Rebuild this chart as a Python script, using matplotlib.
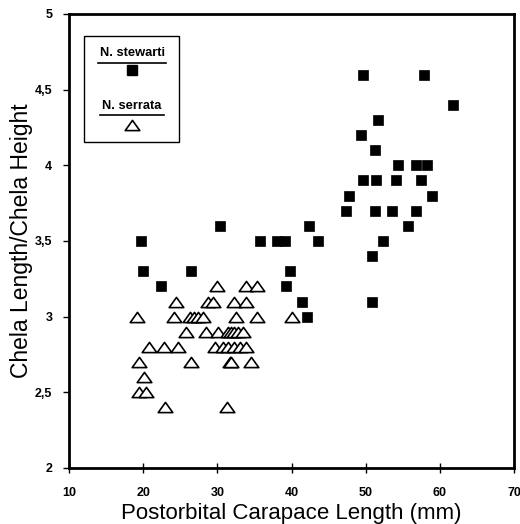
import matplotlib
matplotlib.use('Agg')
import matplotlib.pyplot as plt
from matplotlib.path import Path
from matplotlib.patches import Rectangle

# N. stewarti (filled squares)
stewarti_x = [19.7, 20.0, 22.4, 26.5, 30.4, 35.8, 38.0, 39.1, 39.8, 39.3,
              41.4, 42.1, 42.4, 43.6, 47.4, 47.8, 49.4, 49.7, 49.7, 50.9,
              50.8, 51.3, 51.3, 51.4, 51.7, 52.4, 53.6, 54.1, 54.4, 55.7,
              56.8, 56.8, 57.5, 57.8, 58.3, 59.0, 61.8]
stewarti_y = [3.5, 3.3, 3.2, 3.3, 3.6, 3.5, 3.5, 3.5, 3.3, 3.2,
              3.1, 3.0, 3.6, 3.5, 3.7, 3.8, 4.2, 4.6, 3.9, 3.4,
              3.1, 4.1, 3.7, 3.9, 4.3, 3.5, 3.7, 3.9, 4.0, 3.6,
              4.0, 3.7, 3.9, 4.6, 4.0, 3.8, 4.4]

# N. serrata (open triangles)
serrata_x = [29.9, 33.9, 35.3,
             24.4, 28.8, 29.4, 32.3, 33.8,
             19.2, 24.2, 26.3, 26.9, 27.4, 28.1, 32.5, 35.3, 40.1,
             25.8, 28.5, 30.1, 31.4, 31.8, 32.3, 32.8, 33.4,
             20.8, 22.8, 24.7, 29.7, 30.7, 31.5, 32.3, 33.0, 33.9,
             19.5, 26.4, 31.7, 31.9, 34.5,
             20.1,
             19.5, 20.4,
             22.9, 31.3]
serrata_y = [3.2, 3.2, 3.2,
             3.1, 3.1, 3.1, 3.1, 3.1,
             3.0, 3.0, 3.0, 3.0, 3.0, 3.0, 3.0, 3.0, 3.0,
             2.9, 2.9, 2.9, 2.9, 2.9, 2.9, 2.9, 2.9,
             2.8, 2.8, 2.8, 2.8, 2.8, 2.8, 2.8, 2.8, 2.8,
             2.7, 2.7, 2.7, 2.7, 2.7,
             2.6,
             2.5, 2.5,
             2.4, 2.4]

x_ticks = [10, 20, 30, 40, 50, 60, 70]
y_ticks = [2, 2.5, 3, 3.5, 4, 4.5, 5]
y_ticklabels = ['2', '2,5', '3', '3,5', '4', '4,5', '5']

plt.rcParams['font.family'] = ['Liberation Sans', 'DejaVu Sans']

# wide, flat triangle
tri = Path([(0, 0.7), (-1, -0.7), (1, -0.7), (0, 0.7)],
           [Path.MOVETO, Path.LINETO, Path.LINETO, Path.CLOSEPOLY])

fig = plt.figure(figsize=(5.2, 5.24), dpi=100)
ax = fig.add_axes([0.1327, 0.1069, 0.8558, 0.8664])

ax.plot(serrata_x, serrata_y, linestyle='none', marker=tri, markersize=10.5,
        markerfacecolor='white', markeredgecolor='black', markeredgewidth=1.2)
ax.plot(stewarti_x, stewarti_y, linestyle='none', marker='s', markersize=7.5,
        markerfacecolor='black', markeredgecolor='black', markeredgewidth=0.5)

ax.set_xlim(10, 70)
ax.set_ylim(2, 5)
ax.set_xticks(x_ticks)
ax.set_yticks(y_ticks)
ax.set_yticklabels(y_ticklabels)
ax.tick_params(axis='x', direction='inout', length=7, width=1, labelsize=9, pad=10)
ax.tick_params(axis='y', direction='out', length=4, width=1, labelsize=9, pad=8)
for lab in ax.get_xticklabels() + ax.get_yticklabels():
    lab.set_fontweight('bold')
for sp in ax.spines.values():
    sp.set_linewidth(2)

ax.set_xlabel('Postorbital Carapace Length (mm)', fontsize=16, labelpad=3)
ax.set_ylabel('Chela Length/Chela Height', fontsize=16.5, labelpad=1)

# hand-drawn legend box
ax.add_patch(Rectangle((0.034, 0.718), 0.213, 0.234, transform=ax.transAxes,
                       facecolor='white', edgecolor='black', linewidth=1, zorder=5))
cx = 0.1416
for label, ty in [('N. stewarti', 0.914), ('N. serrata', 0.798)]:
    ax.text(cx, ty, label, transform=ax.transAxes, ha='center', va='center',
            fontsize=9.3, fontweight='bold', zorder=6)
ax.plot([cx - 0.076, cx + 0.076], [0.893, 0.893], transform=ax.transAxes,
        color='black', lw=1.2, zorder=6)
ax.plot([cx - 0.072, cx + 0.072], [0.777, 0.777], transform=ax.transAxes,
        color='black', lw=1.2, zorder=6)
ax.plot([cx], [0.877], transform=ax.transAxes, linestyle='none', marker='s',
        markersize=7, color='black', zorder=6)
ax.plot([cx], [0.755], transform=ax.transAxes, linestyle='none', marker=tri,
        markersize=10.5, markerfacecolor='white', markeredgecolor='black',
        markeredgewidth=1.2, zorder=6)

fig.savefig('out.png', dpi=100)
